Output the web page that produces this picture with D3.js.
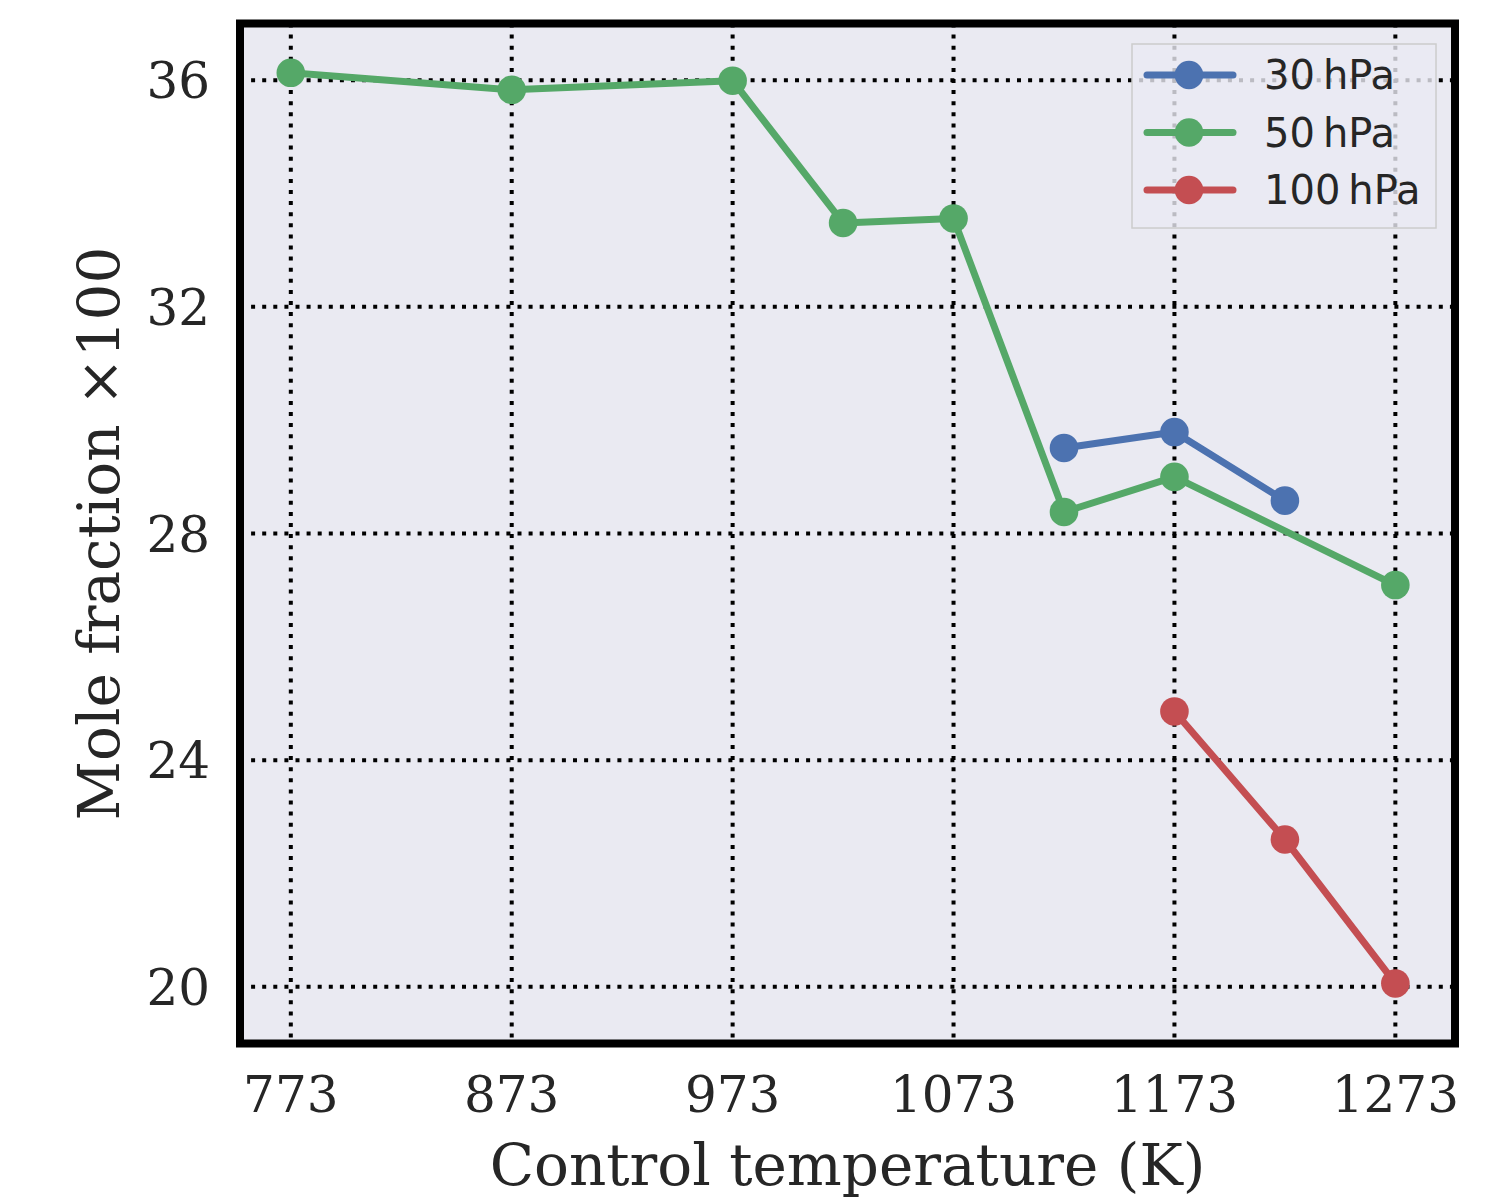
<!DOCTYPE html>
<meta charset="utf-8">
<style>
body { margin: 0; background: #fff; }
svg { font-family: "DejaVu Serif", serif; }
</style>
<svg width="1500" height="1200"></svg>
<script src="https://d3js.org/d3.v7.min.js"></script>
<script>

// data
var xTicks = [773, 873, 973, 1073, 1173, 1273];
var yTicks = [20, 24, 28, 32, 36];

var temps30 = [1123, 1173, 1223];
var vals30 = [29.51, 29.79, 28.58];

var temps50 = [773, 873, 973, 1023, 1073, 1123, 1173, 1273];
var vals50 = [36.13, 35.83, 35.99, 33.48, 33.56, 28.38, 29.0, 27.09];

var temps100 = [1173, 1223, 1273];
var vals100 = [24.86, 22.6, 20.06];

var seriesNames = ["30\u2009hPa", "50\u2009hPa", "100\u2009hPa"];
var seriesColors = ["#4c72b0", "#55a868", "#c44e52"];

var series = [
  { name: seriesNames[0], color: seriesColors[0], xs: temps30, ys: vals30 },
  { name: seriesNames[1], color: seriesColors[1], xs: temps50, ys: vals50 },
  { name: seriesNames[2], color: seriesColors[2], xs: temps100, ys: vals100 }
];

var svg = d3.select("svg");

var pLeft = 240, pRight = 1455, pTop = 23.5, pBottom = 1043.5;

var x = d3.scaleLinear().domain([750, 1300]).range([pLeft, pRight]);
var y = d3.scaleLinear().domain([19, 37]).range([pBottom, pTop]);

// plot background
svg.append("rect")
    .attr("x", pLeft).attr("y", pTop)
    .attr("width", pRight - pLeft).attr("height", pBottom - pTop)
    .attr("fill", "#eaeaf2");

// dotted grid
var grid = svg.append("g");
grid.selectAll(".vg")
  .data(xTicks)
  .enter().append("line")
    .attr("x1", function(d) { return x(d); })
    .attr("x2", function(d) { return x(d); })
    .attr("y1", pTop).attr("y2", pBottom)
    .attr("stroke", "#000")
    .attr("stroke-width", 4)
    .attr("stroke-dasharray", "4,7.1");
grid.selectAll(".hg")
  .data(yTicks)
  .enter().append("line")
    .attr("y1", function(d) { return y(d); })
    .attr("y2", function(d) { return y(d); })
    .attr("x1", pLeft).attr("x2", pRight)
    .attr("stroke", "#000")
    .attr("stroke-width", 4)
    .attr("stroke-dasharray", "4,7.1");

// lines + markers
var line = d3.line()
    .x(function(d) { return x(d[0]); })
    .y(function(d) { return y(d[1]); });

series.forEach(function(s) {
  var pts = s.xs.map(function(t, i) { return [t, s.ys[i]]; });
  svg.append("path")
      .datum(pts)
      .attr("d", line)
      .attr("fill", "none")
      .attr("stroke", s.color)
      .attr("stroke-width", 7)
      .attr("stroke-linejoin", "round")
      .attr("stroke-linecap", "round");
  svg.selectAll(null)
    .data(pts)
    .enter().append("circle")
      .attr("cx", function(d) { return x(d[0]); })
      .attr("cy", function(d) { return y(d[1]); })
      .attr("r", 14.3)
      .attr("fill", s.color);
});

// legend
var lg = svg.append("g").attr("transform", "translate(1132,44)");
lg.append("rect")
    .attr("width", 304).attr("height", 184)
    .attr("fill", "#eaeaf2").attr("fill-opacity", 0.8)
    .attr("stroke", "#cccccc").attr("stroke-width", 1.5);
var item = lg.selectAll(".item")
  .data(series)
  .enter().append("g")
    .attr("transform", function(d, i) { return "translate(0," + (31 + i * 57.5) + ")"; });
item.append("line")
    .attr("x1", 15).attr("x2", 101)
    .attr("stroke", function(d) { return d.color; })
    .attr("stroke-width", 7)
    .attr("stroke-linecap", "round");
item.append("circle")
    .attr("cx", 57).attr("r", 14.3)
    .attr("fill", function(d) { return d.color; });
item.append("text")
    .attr("x", 132).attr("y", 14)
    .attr("font-family", "'DejaVu Sans', sans-serif")
    .attr("font-size", 40)
    .attr("fill", "#262626")
    .text(function(d) { return d.name; });

// frame
svg.append("rect")
    .attr("x", pLeft).attr("y", pTop)
    .attr("width", pRight - pLeft).attr("height", pBottom - pTop)
    .attr("fill", "none")
    .attr("stroke", "#000")
    .attr("stroke-width", 8);

// tick labels
svg.append("g").selectAll("text")
  .data(xTicks)
  .enter().append("text")
    .attr("x", function(d) { return x(d); })
    .attr("y", 1112)
    .attr("text-anchor", "middle")
    .attr("font-size", 50)
    .attr("fill", "#262626")
    .text(function(d) { return d; });

svg.append("g").selectAll("text")
  .data(yTicks)
  .enter().append("text")
    .attr("x", 210)
    .attr("y", function(d) { return y(d); })
    .attr("dy", "0.36em")
    .attr("text-anchor", "end")
    .attr("font-size", 50)
    .attr("fill", "#262626")
    .text(function(d) { return d; });

// axis titles
svg.append("text")
    .attr("x", (pLeft + pRight) / 2)
    .attr("y", 1185)
    .attr("text-anchor", "middle")
    .attr("font-size", 58)
    .attr("fill", "#262626")
    .text("Control temperature (K)");

svg.append("text")
    .attr("transform", "translate(119," + ((pTop + pBottom) / 2) + ") rotate(-90)")
    .attr("text-anchor", "middle")
    .attr("font-size", 58)
    .attr("fill", "#262626")
    .text("Mole fraction \u00d7100");

</script>
